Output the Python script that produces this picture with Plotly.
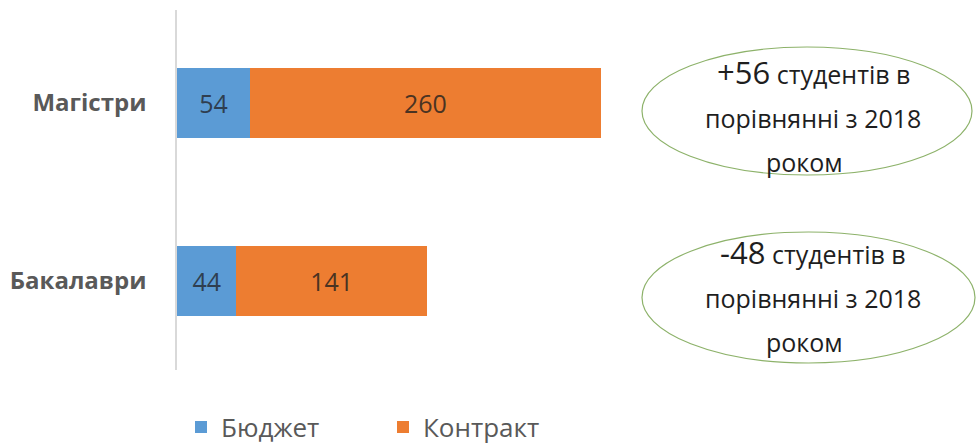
import plotly.graph_objects as go

categories = ["Бакалаври", "Магістри"]
budget = [44, 54]
contract = [141, 260]
series_names = ["Бюджет", "Контракт"]
notes = [
    ("+56", "студентів в", "порівнянні з 2018", "роком"),
    ("-48", "студентів в", "порівнянні з 2018", "роком"),
]

W, H = 977, 446
ML, MR, MT, MB = 177, 0, 10, 76
PW, PH = W - ML - MR, H - MT - MB


def px(X):
    return (X - ML) / PW


def py(Y):
    return (H - MB - Y) / PH


fig = go.Figure()
fig.add_trace(go.Bar(
    y=categories, x=budget, name=series_names[0], orientation="h",
    marker=dict(color="#5B9BD5", line=dict(width=0)), width=0.395,
    text=budget, textposition="inside", insidetextanchor="middle",
    textfont=dict(family="Open Sans", size=25, color="#2F3E50"),
))
fig.add_trace(go.Bar(
    y=categories, x=contract, name=series_names[1], orientation="h",
    marker=dict(color="#ED7D31", line=dict(width=0)), width=0.395,
    text=contract, textposition="inside", insidetextanchor="middle",
    textfont=dict(family="Open Sans", size=25, color="#4A3322"),
))

# ellipses with notes
ellipses = [(642, 47, 972, 175), (642, 232, 975, 363)]
line_y = [(72, 118, 162), (252, 298, 342)]
for (x0, y0, x1, y1), (a, b, c, d), (l1, l2, l3) in zip(ellipses, notes, line_y):
    fig.add_shape(type="circle", xref="paper", yref="paper",
                  x0=px(x0), x1=px(x1), y0=py(y1), y1=py(y0),
                  line=dict(color="#8DB26A", width=1.2), fillcolor="white", layer="above")
    cx = px(813)
    fig.add_annotation(xref="paper", yref="paper", x=cx, y=py(l1), showarrow=False,
                       text=f"<span style='font-size:31px'>{a}</span> {b}",
                       font=dict(family="Open Sans", size=25, color="#1E1E1E"),
                       xanchor="center", yanchor="middle")
    fig.add_annotation(xref="paper", yref="paper", x=cx, y=py(l2), showarrow=False,
                       text=c, font=dict(family="Open Sans", size=25, color="#1E1E1E"),
                       xanchor="center", yanchor="middle")
    fig.add_annotation(xref="paper", yref="paper", x=px(804), y=py(l3), showarrow=False,
                       text=d, font=dict(family="Open Sans", size=25, color="#1E1E1E"),
                       xanchor="center", yanchor="middle")

fig.update_layout(
    width=W, height=H,
    margin=dict(l=ML, r=MR, t=MT, b=MB, autoexpand=False),
    barmode="stack",
    paper_bgcolor="white", plot_bgcolor="white",
    showlegend=True,
    legend=dict(orientation="h", x=px(181), y=py(427), xanchor="left", yanchor="middle",
                font=dict(family="Open Sans", size=26, color="#595959"),
                entrywidth=157, traceorder="normal", bgcolor="rgba(0,0,0,0)"),
    xaxis=dict(range=[0, PW / 1.35], visible=False, fixedrange=True),
    yaxis=dict(categoryorder="array", categoryarray=categories,
               range=[-0.5, 1.522], showline=True, linecolor="#D9D9D9", linewidth=1.5,
               showgrid=False, zeroline=False, ticks="", ticklabelstandoff=24,
               tickfont=dict(family="Open Sans", size=24, color="#595959", weight=700)),
    bargap=0.6,
)

fig.write_html("out.html", config={"displayModeBar": False},
               post_script="document.body.style.margin='0';")
